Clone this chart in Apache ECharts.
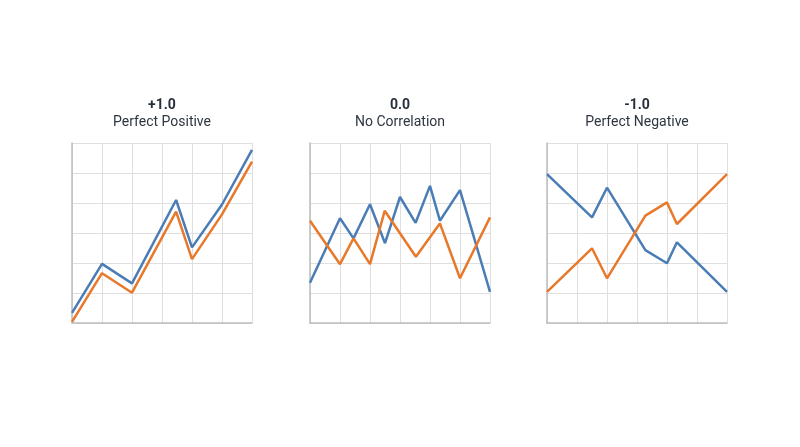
<!DOCTYPE html>
<html>
<head>
<meta charset="utf-8">
<script src="https://cdn.jsdelivr.net/npm/echarts@6/dist/echarts.min.js"></script>
<style>
html,body{margin:0;padding:0;background:#fff;}
#chart{width:800px;height:447px;}
</style>
</head>
<body>
<div id="chart"></div>
<script>
// Panel titles
const panelValues = ['+1.0', '0.0', '-1.0'];
const panelNames = ['Perfect Positive', 'No Correlation', 'Perfect Negative'];

// Perfect positive
const posX = [0, 1, 2, 3.47, 4, 5, 6];
const posA = [0.34, 1.97, 1.32, 4.1, 2.52, 3.95, 5.77];
const posB = [0.04, 1.66, 1.01, 3.71, 2.13, 3.62, 5.38];

// No correlation
const noneXA = [0, 1, 1.45, 2, 2.5, 3, 3.52, 4, 4.33, 5, 6];
const noneA = [1.34, 3.49, 2.82, 3.96, 2.66, 4.2, 3.34, 4.57, 3.41, 4.43, 1.04];
const noneXB = [0, 1, 1.45, 2, 2.49, 3.53, 4.33, 5, 6];
const noneB = [3.41, 1.96, 2.82, 1.96, 3.74, 2.21, 3.32, 1.49, 3.52];

// Perfect negative
const negX = [0, 1.5, 2, 3.28, 4, 4.33, 6];
const negA = [4.96, 3.52, 4.51, 2.43, 1.99, 2.69, 1.04];
const negB = [1.04, 2.49, 1.49, 3.58, 4.02, 3.3, 4.96];

const zip = (xs, ys) => xs.map((x, i) => [x, ys[i]]);

const blue = '#4a7db5';
const orange = '#e8782a';
const gridLefts = [72, 310, 547];
const gridW = 180, gridH = 180, gridTop = 143;

const panels = [
  [zip(posX, posA), zip(posX, posB)],
  [zip(noneXA, noneA), zip(noneXB, noneB)],
  [zip(negX, negA), zip(negX, negB)]
];

function axis(i) {
  return {
    type: 'value', gridIndex: i, min: 0, max: 6, interval: 1,
    axisLabel: {show: false}, axisTick: {show: false},
    axisLine: {show: true, lineStyle: {color: '#bdbdbd', width: 1.5}},
    splitLine: {show: true, lineStyle: {color: '#dfdfdf', width: 1}}
  };
}

const option = {
  backgroundColor: '#ffffff',
  animation: false,
  title: panelValues.map((v, i) => ({
    text: v,
    subtext: panelNames[i],
    left: gridLefts[i] + gridW / 2,
    top: 98,
    textAlign: 'center',
    padding: 0,
    itemGap: 3,
    textStyle: {fontFamily: 'Roboto', fontSize: 14, fontWeight: 'bold', color: '#27303a'},
    subtextStyle: {fontFamily: 'Roboto', fontSize: 14, color: '#2e3640'}
  })),
  grid: gridLefts.map(l => ({left: l, top: gridTop, width: gridW, height: gridH, containLabel: false})),
  xAxis: [0, 1, 2].map(axis),
  yAxis: [0, 1, 2].map(axis),
  series: []
};

panels.forEach((p, i) => {
  [blue, orange].forEach((c, k) => {
    option.series.push({
      type: 'line', xAxisIndex: i, yAxisIndex: i,
      data: p[k], symbol: 'none', silent: true,
      lineStyle: {color: c, width: 2.5}
    });
  });
});

const chart = echarts.init(document.getElementById('chart'), null, {renderer: 'canvas'});
chart.setOption(option);
</script>
</body>
</html>
